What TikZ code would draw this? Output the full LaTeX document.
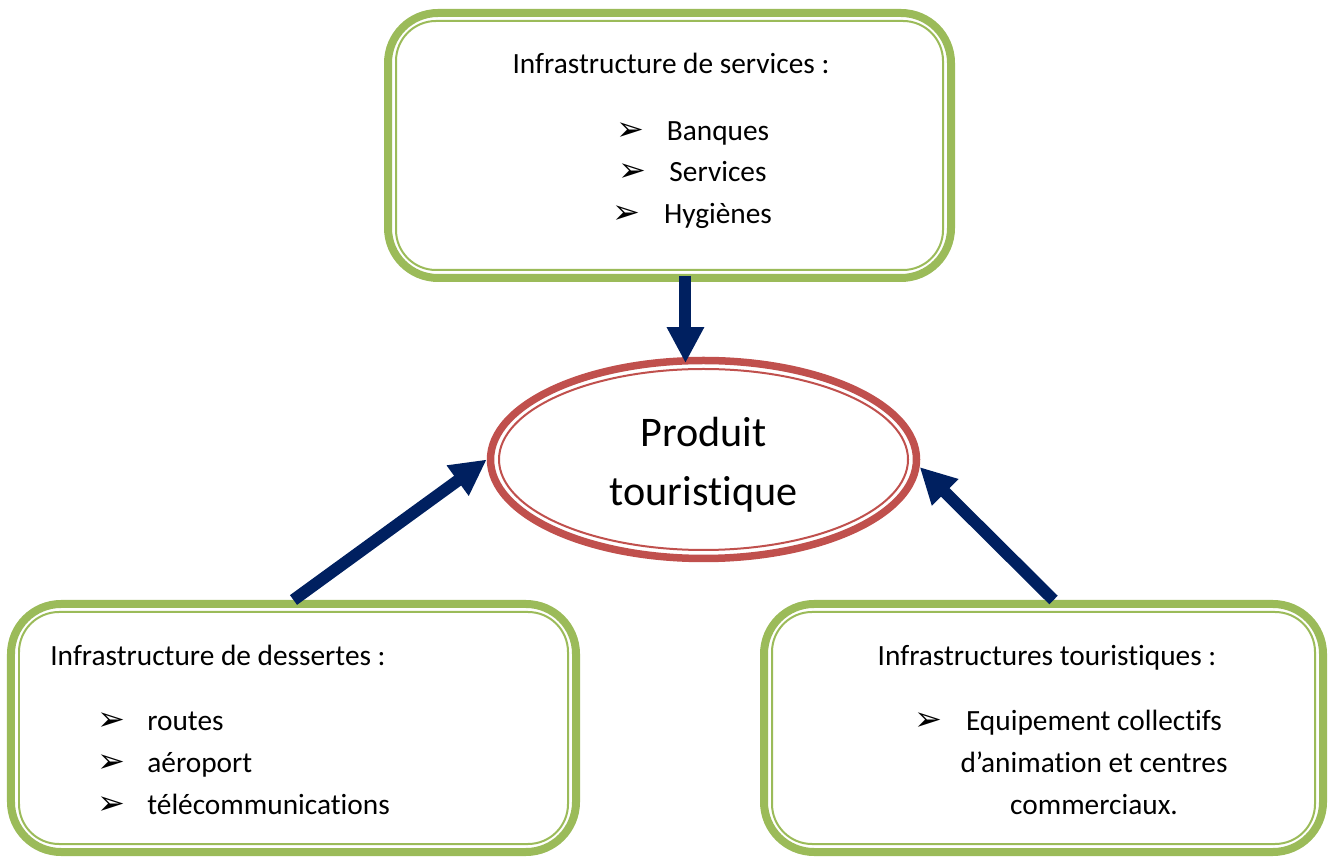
\documentclass[tikz,border=0pt]{standalone}
\usepackage{fontspec}
\setmainfont{Carlito}[Ligatures=NoCommon]
\newfontfamily\dejavu{DejaVu Sans}
\usetikzlibrary{arrows.meta,shapes.geometric}
\definecolor{boxgreen}{HTML}{9BBB59}
\definecolor{ovalred}{HTML}{C0504D}
\definecolor{arrownavy}{HTML}{002060}
\newcommand{\bul}{{\dejavu\fontsize{19}{19}\selectfont ➢}}
\newcommand{\bodyfont}{\fontsize{16.7}{23.6}\selectfont}

\begin{document}
\begin{tikzpicture}[
		infobox/.style={draw=boxgreen, line width=0.16cm, rounded corners=1cm},
		innerline/.style={draw=boxgreen, line width=0.04cm, rounded corners=0.8cm},
		txt/.style={anchor=base, inner sep=0pt, font=\bodyfont},
		flow/.style={draw=arrownavy, line width=0.24cm, -{Triangle[width=0.7cm,length=0.72cm]}}
	]
		%%%%% START %%%%%
		\useasboundingbox (0, 0) rectangle (26.62, 17.12);
		
		\node[infobox, minimum width=11.26cm, minimum height=5.3cm] (services) at (13.39, 14.21) {};
		\node[infobox, minimum width=11.3cm, minimum height=4.96cm] (dessertes) at (5.87, 2.56) {};
		\node[infobox, minimum width=11.18cm, minimum height=4.96cm] (touristiques) at (20.87, 2.56) {};
		
		\foreach \b in {services, dessertes, touristiques}
			\draw[innerline] ([shift={(0.24,-0.24)}]\b.north west) rectangle ([shift={(-0.24,0.24)}]\b.south east);
		
		\node[ellipse, draw=ovalred, line width=0.15cm, minimum width=8.52cm, minimum height=3.96cm] (produit) at (14.07, 7.93) {};
		\draw[ovalred, line width=0.04cm] (produit.center) ellipse [x radius=4.09cm, y radius=1.81cm];
		\node[align=center, font=\fontsize{24}{33.6}\selectfont] (produittxt) at ([yshift=-0.1cm]produit.center) {Produit\\touristique};
		
		% services
		\node[txt] (servtitle) at (13.42, 15.64) {Infrastructure de services :};
		\foreach \y/\x/\word [count=\i] in {14.30/12.60/Banques, 13.48/12.65/Services, 12.64/12.53/Hygiènes}
		{
			\node[txt] (servbul\i) at (\x, \y) {\bul};
			\node[txt] (serv\i) at (14.36, \y) {\word};
		}
		
		% dessertes
		\node[txt, anchor=base west] (desstitle) at (1.0, 3.80) {Infrastructure de dessertes :};
		\foreach \y/\word [count=\i] in {2.50/routes, 1.66/aéroport, 0.84/télécommunications}
		{
			\node[txt] (dessbul\i) at (2.23, \y) {\bul};
			\node[txt, anchor=base west] (dess\i) at (2.94, \y) {\word};
		}
		
		% touristiques
		\node[txt] (touristitle) at (20.94, 3.80) {Infrastructures touristiques :};
		\node[txt] (touristbul) at (18.57, 2.50) {\bul};
		\foreach \y/\word [count=\i] in {2.50/Equipement collectifs, 1.66/d’animation et centres, 0.84/commerciaux.}
			\node[txt] (tourist\i) at (21.88, \y) {\word};
		
		% arrows
		\draw[flow] ([yshift=0.12cm]services.south -| produit.100) -- ([yshift=-0.12cm]produit.100);
		\draw[flow] (dessertes.north) -- (produit.west);
		\draw[flow] ([xshift=0.2cm]touristiques.north) -- (produit.-2);
		
		%%%%% END %%%%%
	\end{tikzpicture}
\end{document}
